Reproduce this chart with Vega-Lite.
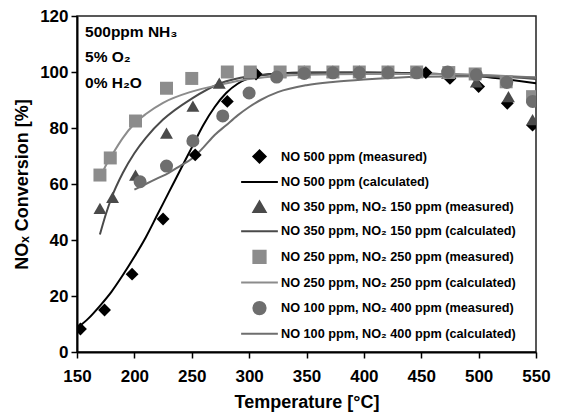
{
  "$schema": "https://vega.github.io/schema/vega-lite/v6.json",
  "width": 459,
  "height": 336,
  "autosize": {"type": "none"},
  "padding": {"left": 77, "top": 16, "right": 27, "bottom": 63},
  "config": {
    "font": "Liberation Sans",
    "view": {"stroke": "#222222", "strokeWidth": 1.5},
    "axis": {
      "grid": false,
      "domainColor": "#000000",
      "domainWidth": 2,
      "tickColor": "#000000",
      "tickWidth": 1.5,
      "tickSize": 6,
      "labelColor": "#000000",
      "labelFont": "Liberation Sans",
      "labelFontSize": 17,
      "labelFontWeight": "bold",
      "labelFlush": false,
      "labelOverlap": false,
      "titleColor": "#000000",
      "titleFont": "Liberation Sans",
      "titleFontSize": 18,
      "titleFontWeight": "bold"
    }
  },
  "datasets": {
    "notes": [
      {"T": 157, "v": 114.3, "text": "500ppm NH₃"},
      {"T": 157, "v": 105.2, "text": "5% O₂"},
      {"T": 157, "v": 96.2, "text": "0% H₂O"}
    ]
  },
  "data": {
    "values": [
      {"s": "NO 500 ppm (calculated)", "k": "c", "T": 150, "v": 8.5},
      {"s": "NO 500 ppm (calculated)", "k": "c", "T": 160, "v": 12},
      {"s": "NO 500 ppm (calculated)", "k": "c", "T": 170, "v": 16.5},
      {"s": "NO 500 ppm (calculated)", "k": "c", "T": 180, "v": 21.5},
      {"s": "NO 500 ppm (calculated)", "k": "c", "T": 190, "v": 27.5},
      {"s": "NO 500 ppm (calculated)", "k": "c", "T": 200, "v": 34},
      {"s": "NO 500 ppm (calculated)", "k": "c", "T": 210, "v": 41},
      {"s": "NO 500 ppm (calculated)", "k": "c", "T": 220, "v": 49},
      {"s": "NO 500 ppm (calculated)", "k": "c", "T": 230, "v": 57},
      {"s": "NO 500 ppm (calculated)", "k": "c", "T": 240, "v": 65},
      {"s": "NO 500 ppm (calculated)", "k": "c", "T": 250, "v": 73},
      {"s": "NO 500 ppm (calculated)", "k": "c", "T": 260, "v": 81},
      {"s": "NO 500 ppm (calculated)", "k": "c", "T": 270, "v": 87.5},
      {"s": "NO 500 ppm (calculated)", "k": "c", "T": 280, "v": 92.5},
      {"s": "NO 500 ppm (calculated)", "k": "c", "T": 290, "v": 95.8},
      {"s": "NO 500 ppm (calculated)", "k": "c", "T": 300, "v": 97.8},
      {"s": "NO 500 ppm (calculated)", "k": "c", "T": 310, "v": 98.8},
      {"s": "NO 500 ppm (calculated)", "k": "c", "T": 325, "v": 99.5},
      {"s": "NO 500 ppm (calculated)", "k": "c", "T": 350, "v": 99.8},
      {"s": "NO 500 ppm (calculated)", "k": "c", "T": 400, "v": 99.8},
      {"s": "NO 500 ppm (calculated)", "k": "c", "T": 450, "v": 99.5},
      {"s": "NO 500 ppm (calculated)", "k": "c", "T": 500, "v": 98.5},
      {"s": "NO 500 ppm (calculated)", "k": "c", "T": 550, "v": 96},

      {"s": "NO 350 ppm, NO₂ 150 ppm (calculated)", "k": "c", "T": 170, "v": 42},
      {"s": "NO 350 ppm, NO₂ 150 ppm (calculated)", "k": "c", "T": 175, "v": 49},
      {"s": "NO 350 ppm, NO₂ 150 ppm (calculated)", "k": "c", "T": 180, "v": 55},
      {"s": "NO 350 ppm, NO₂ 150 ppm (calculated)", "k": "c", "T": 190, "v": 64},
      {"s": "NO 350 ppm, NO₂ 150 ppm (calculated)", "k": "c", "T": 200, "v": 71},
      {"s": "NO 350 ppm, NO₂ 150 ppm (calculated)", "k": "c", "T": 210, "v": 76.5},
      {"s": "NO 350 ppm, NO₂ 150 ppm (calculated)", "k": "c", "T": 225, "v": 83},
      {"s": "NO 350 ppm, NO₂ 150 ppm (calculated)", "k": "c", "T": 250, "v": 90.5},
      {"s": "NO 350 ppm, NO₂ 150 ppm (calculated)", "k": "c", "T": 275, "v": 96},
      {"s": "NO 350 ppm, NO₂ 150 ppm (calculated)", "k": "c", "T": 300, "v": 98.5},
      {"s": "NO 350 ppm, NO₂ 150 ppm (calculated)", "k": "c", "T": 325, "v": 99.3},
      {"s": "NO 350 ppm, NO₂ 150 ppm (calculated)", "k": "c", "T": 350, "v": 99.6},
      {"s": "NO 350 ppm, NO₂ 150 ppm (calculated)", "k": "c", "T": 400, "v": 99.7},
      {"s": "NO 350 ppm, NO₂ 150 ppm (calculated)", "k": "c", "T": 450, "v": 99.5},
      {"s": "NO 350 ppm, NO₂ 150 ppm (calculated)", "k": "c", "T": 500, "v": 98.8},
      {"s": "NO 350 ppm, NO₂ 150 ppm (calculated)", "k": "c", "T": 550, "v": 97.5},

      {"s": "NO 250 ppm, NO₂ 250 ppm (calculated)", "k": "c", "T": 170, "v": 62},
      {"s": "NO 250 ppm, NO₂ 250 ppm (calculated)", "k": "c", "T": 175, "v": 66.5},
      {"s": "NO 250 ppm, NO₂ 250 ppm (calculated)", "k": "c", "T": 180, "v": 70},
      {"s": "NO 250 ppm, NO₂ 250 ppm (calculated)", "k": "c", "T": 190, "v": 76.5},
      {"s": "NO 250 ppm, NO₂ 250 ppm (calculated)", "k": "c", "T": 200, "v": 81.5},
      {"s": "NO 250 ppm, NO₂ 250 ppm (calculated)", "k": "c", "T": 210, "v": 85},
      {"s": "NO 250 ppm, NO₂ 250 ppm (calculated)", "k": "c", "T": 225, "v": 89},
      {"s": "NO 250 ppm, NO₂ 250 ppm (calculated)", "k": "c", "T": 250, "v": 93},
      {"s": "NO 250 ppm, NO₂ 250 ppm (calculated)", "k": "c", "T": 275, "v": 95.5},
      {"s": "NO 250 ppm, NO₂ 250 ppm (calculated)", "k": "c", "T": 300, "v": 97.5},
      {"s": "NO 250 ppm, NO₂ 250 ppm (calculated)", "k": "c", "T": 325, "v": 98.5},
      {"s": "NO 250 ppm, NO₂ 250 ppm (calculated)", "k": "c", "T": 350, "v": 99},
      {"s": "NO 250 ppm, NO₂ 250 ppm (calculated)", "k": "c", "T": 400, "v": 99.3},
      {"s": "NO 250 ppm, NO₂ 250 ppm (calculated)", "k": "c", "T": 450, "v": 99.3},
      {"s": "NO 250 ppm, NO₂ 250 ppm (calculated)", "k": "c", "T": 500, "v": 99},
      {"s": "NO 250 ppm, NO₂ 250 ppm (calculated)", "k": "c", "T": 550, "v": 98},

      {"s": "NO 100 ppm, NO₂ 400 ppm (calculated)", "k": "c", "T": 200, "v": 58},
      {"s": "NO 100 ppm, NO₂ 400 ppm (calculated)", "k": "c", "T": 210, "v": 60},
      {"s": "NO 100 ppm, NO₂ 400 ppm (calculated)", "k": "c", "T": 220, "v": 62},
      {"s": "NO 100 ppm, NO₂ 400 ppm (calculated)", "k": "c", "T": 230, "v": 64},
      {"s": "NO 100 ppm, NO₂ 400 ppm (calculated)", "k": "c", "T": 240, "v": 66.5},
      {"s": "NO 100 ppm, NO₂ 400 ppm (calculated)", "k": "c", "T": 250, "v": 69},
      {"s": "NO 100 ppm, NO₂ 400 ppm (calculated)", "k": "c", "T": 260, "v": 73},
      {"s": "NO 100 ppm, NO₂ 400 ppm (calculated)", "k": "c", "T": 270, "v": 77.5},
      {"s": "NO 100 ppm, NO₂ 400 ppm (calculated)", "k": "c", "T": 280, "v": 81},
      {"s": "NO 100 ppm, NO₂ 400 ppm (calculated)", "k": "c", "T": 290, "v": 84.5},
      {"s": "NO 100 ppm, NO₂ 400 ppm (calculated)", "k": "c", "T": 300, "v": 87.5},
      {"s": "NO 100 ppm, NO₂ 400 ppm (calculated)", "k": "c", "T": 310, "v": 90},
      {"s": "NO 100 ppm, NO₂ 400 ppm (calculated)", "k": "c", "T": 325, "v": 92.8},
      {"s": "NO 100 ppm, NO₂ 400 ppm (calculated)", "k": "c", "T": 350, "v": 95.3},
      {"s": "NO 100 ppm, NO₂ 400 ppm (calculated)", "k": "c", "T": 375, "v": 96.5},
      {"s": "NO 100 ppm, NO₂ 400 ppm (calculated)", "k": "c", "T": 400, "v": 97.3},
      {"s": "NO 100 ppm, NO₂ 400 ppm (calculated)", "k": "c", "T": 450, "v": 98.3},
      {"s": "NO 100 ppm, NO₂ 400 ppm (calculated)", "k": "c", "T": 500, "v": 98.5},
      {"s": "NO 100 ppm, NO₂ 400 ppm (calculated)", "k": "c", "T": 550, "v": 98},

      {"s": "NO 500 ppm (measured)", "k": "m", "T": 153, "v": 8.2},
      {"s": "NO 500 ppm (measured)", "k": "m", "T": 174, "v": 15},
      {"s": "NO 500 ppm (measured)", "k": "m", "T": 198, "v": 27.8},
      {"s": "NO 500 ppm (measured)", "k": "m", "T": 225, "v": 47.5},
      {"s": "NO 500 ppm (measured)", "k": "m", "T": 253, "v": 70.4},
      {"s": "NO 500 ppm (measured)", "k": "m", "T": 281, "v": 89.5},
      {"s": "NO 500 ppm (measured)", "k": "m", "T": 306, "v": 99.3},
      {"s": "NO 500 ppm (measured)", "k": "m", "T": 327, "v": 99.8},
      {"s": "NO 500 ppm (measured)", "k": "m", "T": 348, "v": 100},
      {"s": "NO 500 ppm (measured)", "k": "m", "T": 373, "v": 100},
      {"s": "NO 500 ppm (measured)", "k": "m", "T": 396, "v": 100},
      {"s": "NO 500 ppm (measured)", "k": "m", "T": 421, "v": 100},
      {"s": "NO 500 ppm (measured)", "k": "m", "T": 454, "v": 99.8},
      {"s": "NO 500 ppm (measured)", "k": "m", "T": 475, "v": 97.7},
      {"s": "NO 500 ppm (measured)", "k": "m", "T": 500, "v": 94.8},
      {"s": "NO 500 ppm (measured)", "k": "m", "T": 525, "v": 88.8},
      {"s": "NO 500 ppm (measured)", "k": "m", "T": 547, "v": 81},

      {"s": "NO 350 ppm, NO₂ 150 ppm (measured)", "k": "m", "T": 170, "v": 51.3},
      {"s": "NO 350 ppm, NO₂ 150 ppm (measured)", "k": "m", "T": 181, "v": 55.2},
      {"s": "NO 350 ppm, NO₂ 150 ppm (measured)", "k": "m", "T": 201, "v": 63.2},
      {"s": "NO 350 ppm, NO₂ 150 ppm (measured)", "k": "m", "T": 228, "v": 78.2},
      {"s": "NO 350 ppm, NO₂ 150 ppm (measured)", "k": "m", "T": 251, "v": 87.8},
      {"s": "NO 350 ppm, NO₂ 150 ppm (measured)", "k": "m", "T": 274, "v": 96},
      {"s": "NO 350 ppm, NO₂ 150 ppm (measured)", "k": "m", "T": 300, "v": 99.5},
      {"s": "NO 350 ppm, NO₂ 150 ppm (measured)", "k": "m", "T": 327, "v": 100},
      {"s": "NO 350 ppm, NO₂ 150 ppm (measured)", "k": "m", "T": 348, "v": 100},
      {"s": "NO 350 ppm, NO₂ 150 ppm (measured)", "k": "m", "T": 373, "v": 100},
      {"s": "NO 350 ppm, NO₂ 150 ppm (measured)", "k": "m", "T": 396, "v": 100},
      {"s": "NO 350 ppm, NO₂ 150 ppm (measured)", "k": "m", "T": 421, "v": 100},
      {"s": "NO 350 ppm, NO₂ 150 ppm (measured)", "k": "m", "T": 446, "v": 100},
      {"s": "NO 350 ppm, NO₂ 150 ppm (measured)", "k": "m", "T": 473, "v": 99.5},
      {"s": "NO 350 ppm, NO₂ 150 ppm (measured)", "k": "m", "T": 498, "v": 96.5},
      {"s": "NO 350 ppm, NO₂ 150 ppm (measured)", "k": "m", "T": 526, "v": 91.2},
      {"s": "NO 350 ppm, NO₂ 150 ppm (measured)", "k": "m", "T": 547, "v": 83},

      {"s": "NO 250 ppm, NO₂ 250 ppm (measured)", "k": "m", "T": 170, "v": 63.2},
      {"s": "NO 250 ppm, NO₂ 250 ppm (measured)", "k": "m", "T": 179, "v": 69.3},
      {"s": "NO 250 ppm, NO₂ 250 ppm (measured)", "k": "m", "T": 201, "v": 82.5},
      {"s": "NO 250 ppm, NO₂ 250 ppm (measured)", "k": "m", "T": 228, "v": 94.2},
      {"s": "NO 250 ppm, NO₂ 250 ppm (measured)", "k": "m", "T": 250, "v": 97.7},
      {"s": "NO 250 ppm, NO₂ 250 ppm (measured)", "k": "m", "T": 281, "v": 100},
      {"s": "NO 250 ppm, NO₂ 250 ppm (measured)", "k": "m", "T": 301, "v": 100},
      {"s": "NO 250 ppm, NO₂ 250 ppm (measured)", "k": "m", "T": 327, "v": 100},
      {"s": "NO 250 ppm, NO₂ 250 ppm (measured)", "k": "m", "T": 348, "v": 100},
      {"s": "NO 250 ppm, NO₂ 250 ppm (measured)", "k": "m", "T": 373, "v": 100},
      {"s": "NO 250 ppm, NO₂ 250 ppm (measured)", "k": "m", "T": 396, "v": 100},
      {"s": "NO 250 ppm, NO₂ 250 ppm (measured)", "k": "m", "T": 421, "v": 100},
      {"s": "NO 250 ppm, NO₂ 250 ppm (measured)", "k": "m", "T": 446, "v": 100},
      {"s": "NO 250 ppm, NO₂ 250 ppm (measured)", "k": "m", "T": 474, "v": 99.8},
      {"s": "NO 250 ppm, NO₂ 250 ppm (measured)", "k": "m", "T": 497, "v": 99.3},
      {"s": "NO 250 ppm, NO₂ 250 ppm (measured)", "k": "m", "T": 524, "v": 96.5},
      {"s": "NO 250 ppm, NO₂ 250 ppm (measured)", "k": "m", "T": 547, "v": 91.2},

      {"s": "NO 100 ppm, NO₂ 400 ppm (measured)", "k": "m", "T": 205, "v": 60.8},
      {"s": "NO 100 ppm, NO₂ 400 ppm (measured)", "k": "m", "T": 228, "v": 66.4},
      {"s": "NO 100 ppm, NO₂ 400 ppm (measured)", "k": "m", "T": 251, "v": 75.4},
      {"s": "NO 100 ppm, NO₂ 400 ppm (measured)", "k": "m", "T": 277, "v": 84.3},
      {"s": "NO 100 ppm, NO₂ 400 ppm (measured)", "k": "m", "T": 300, "v": 92.5},
      {"s": "NO 100 ppm, NO₂ 400 ppm (measured)", "k": "m", "T": 324, "v": 98.2},
      {"s": "NO 100 ppm, NO₂ 400 ppm (measured)", "k": "m", "T": 348, "v": 99.5},
      {"s": "NO 100 ppm, NO₂ 400 ppm (measured)", "k": "m", "T": 373, "v": 99.7},
      {"s": "NO 100 ppm, NO₂ 400 ppm (measured)", "k": "m", "T": 396, "v": 99.7},
      {"s": "NO 100 ppm, NO₂ 400 ppm (measured)", "k": "m", "T": 421, "v": 99.7},
      {"s": "NO 100 ppm, NO₂ 400 ppm (measured)", "k": "m", "T": 446, "v": 99.7},
      {"s": "NO 100 ppm, NO₂ 400 ppm (measured)", "k": "m", "T": 473, "v": 100},
      {"s": "NO 100 ppm, NO₂ 400 ppm (measured)", "k": "m", "T": 498, "v": 99},
      {"s": "NO 100 ppm, NO₂ 400 ppm (measured)", "k": "m", "T": 524.5, "v": 96.3},
      {"s": "NO 100 ppm, NO₂ 400 ppm (measured)", "k": "m", "T": 547, "v": 89.5}
    ]
  },
  "layer": [
    {
      "transform": [{"filter": "datum.k == 'c'"}],
      "mark": {"type": "line", "interpolate": "monotone", "strokeWidth": 2, "clip": true},
      "encoding": {
        "x": {"field": "T", "type": "quantitative", "scale": {"domain": [150, 550], "nice": false, "zero": false},
          "axis": {"title": "Temperature [°C]", "values": [150,175,200,225,250,275,300,325,350,375,400,425,450,475,500,525,550],
            "labelExpr": "datum.value % 50 == 0 ? datum.label : ''", "labelPadding": 10, "titlePadding": 9}},
        "y": {"field": "v", "type": "quantitative", "scale": {"domain": [0, 120], "nice": false},
          "axis": {"title": "NOₓ Conversion [%]", "values": [0,10,20,30,40,50,60,70,80,90,100,110,120],
            "labelExpr": "datum.value % 20 == 0 ? datum.label : ''", "labelPadding": 3, "titlePadding": 8}},
        "color": {"field": "s", "type": "nominal",
          "scale": {
            "domain": ["NO 500 ppm (measured)", "NO 500 ppm (calculated)", "NO 350 ppm, NO₂ 150 ppm (measured)", "NO 350 ppm, NO₂ 150 ppm (calculated)", "NO 250 ppm, NO₂ 250 ppm (measured)", "NO 250 ppm, NO₂ 250 ppm (calculated)", "NO 100 ppm, NO₂ 400 ppm (measured)", "NO 100 ppm, NO₂ 400 ppm (calculated)"],
            "range": ["#000000", "#000000", "#4a4a4a", "#4a4a4a", "#8c8c8c", "#8c8c8c", "#6e6e6e", "#6e6e6e"]
          },
          "legend": {
            "orient": "none", "legendX": 175, "legendY": 133, "title": null, "padding": 0,
            "labelFont": "Liberation Sans", "labelFontSize": 12.7, "labelFontWeight": "bold", "labelColor": "#000000",
            "labelLimit": 400,
            "symbolSize": 150, "labelOffset": 14, "rowPadding": 7.6, "symbolStrokeWidth": 2,
            "symbolFillColor": "#000000", "symbolOpacity": 1
          }
        }
      }
    },
    {
      "transform": [{"filter": "datum.k == 'm'"}],
      "mark": {"type": "point", "filled": true, "opacity": 1, "clip": true},
      "encoding": {
        "x": {"field": "T", "type": "quantitative"},
        "y": {"field": "v", "type": "quantitative"},
        "color": {"field": "s", "type": "nominal"},
        "shape": {"field": "s", "type": "nominal",
          "scale": {
            "domain": ["NO 500 ppm (measured)", "NO 500 ppm (calculated)", "NO 350 ppm, NO₂ 150 ppm (measured)", "NO 350 ppm, NO₂ 150 ppm (calculated)", "NO 250 ppm, NO₂ 250 ppm (measured)", "NO 250 ppm, NO₂ 250 ppm (calculated)", "NO 100 ppm, NO₂ 400 ppm (measured)", "NO 100 ppm, NO₂ 400 ppm (calculated)"],
            "range": ["diamond", "M -3 0 L 3 0", "triangle-up", "M -3 0 L 3 0", "square", "M -3 0 L 3 0", "circle", "M -3 0 L 3 0"]
          }
        },
        "size": {"field": "s", "type": "nominal", "legend": null,
          "scale": {
            "domain": ["NO 500 ppm (measured)", "NO 350 ppm, NO₂ 150 ppm (measured)", "NO 250 ppm, NO₂ 250 ppm (measured)", "NO 100 ppm, NO₂ 400 ppm (measured)"],
            "range": [165, 170, 120, 125]
          }
        }
      }
    },
    {
      "data": {"name": "notes"},
      "mark": {"type": "text", "align": "left", "baseline": "middle", "font": "Liberation Sans", "fontSize": 15.5, "fontWeight": "bold", "color": "#000000"},
      "encoding": {
        "x": {"field": "T", "type": "quantitative"},
        "y": {"field": "v", "type": "quantitative"},
        "text": {"field": "text"}
      }
    }
  ]
}
